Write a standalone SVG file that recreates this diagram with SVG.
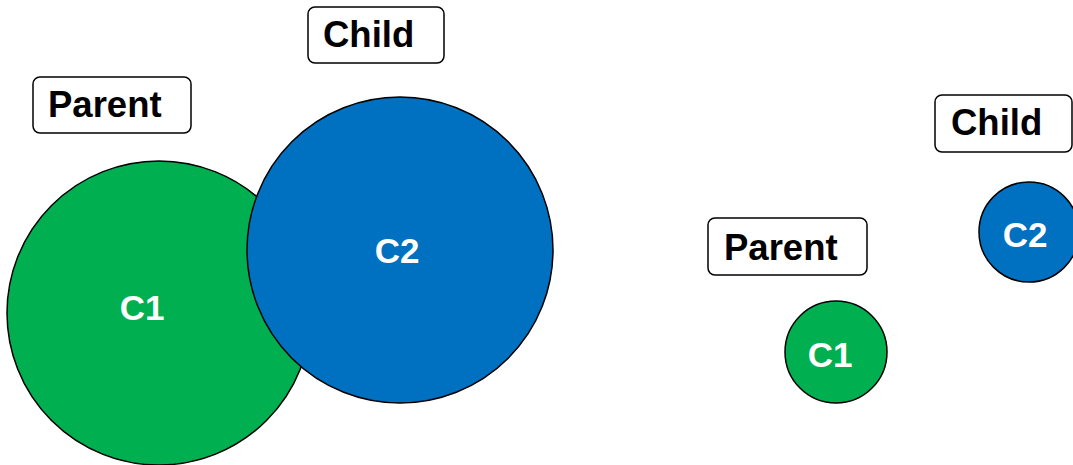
<svg xmlns="http://www.w3.org/2000/svg" width="1073" height="465" viewBox="0 0 1073 465">
  <style>
    .label rect { fill: #ffffff; stroke: #000000; stroke-width: 1.5; }
    .label text { font-family: "Liberation Sans", Arial, sans-serif; font-weight: bold; font-size: 36.5px; fill: #000000; }
    .circle circle { stroke: #000000; stroke-width: 1.5; }
    .circle text { font-family: "Liberation Sans", Arial, sans-serif; font-weight: bold; font-size: 35px; fill: #ffffff; text-anchor: middle; }
    .green { fill: #00B050; }
    .blue { fill: #0070C0; }
  </style>
  <rect width="1073" height="465" fill="#ffffff"/>

  <!-- Overlapping layout -->
  <g id="parent-label-a" class="label">
    <rect x="33" y="77" width="158" height="56" rx="7"/>
    <text x="48" y="117">Parent</text>
  </g>
  <g id="child-label-a" class="label">
    <rect x="308" y="7" width="136" height="56" rx="7"/>
    <text x="323" y="47">Child</text>
  </g>
  <g id="c1-a" class="circle">
    <circle class="green" cx="159" cy="313" r="152"/>
    <text x="142" y="320">C1</text>
  </g>
  <g id="c2-a" class="circle">
    <circle class="blue" cx="400" cy="250" r="153"/>
    <text x="397" y="263">C2</text>
  </g>

  <!-- Separated layout -->
  <g id="parent-label-b" class="label">
    <rect x="708" y="218" width="159" height="57" rx="7"/>
    <text x="724" y="260">Parent</text>
  </g>
  <g id="child-label-b" class="label">
    <rect x="935" y="95" width="137" height="57" rx="7"/>
    <text x="951" y="135">Child</text>
  </g>
  <g id="c1-b" class="circle">
    <circle class="green" cx="836" cy="352" r="51"/>
    <text x="830" y="367">C1</text>
  </g>
  <g id="c2-b" class="circle">
    <circle class="blue" cx="1029" cy="232" r="50"/>
    <text x="1025" y="247">C2</text>
  </g>

  <g id="connectors"></g>
</svg>
